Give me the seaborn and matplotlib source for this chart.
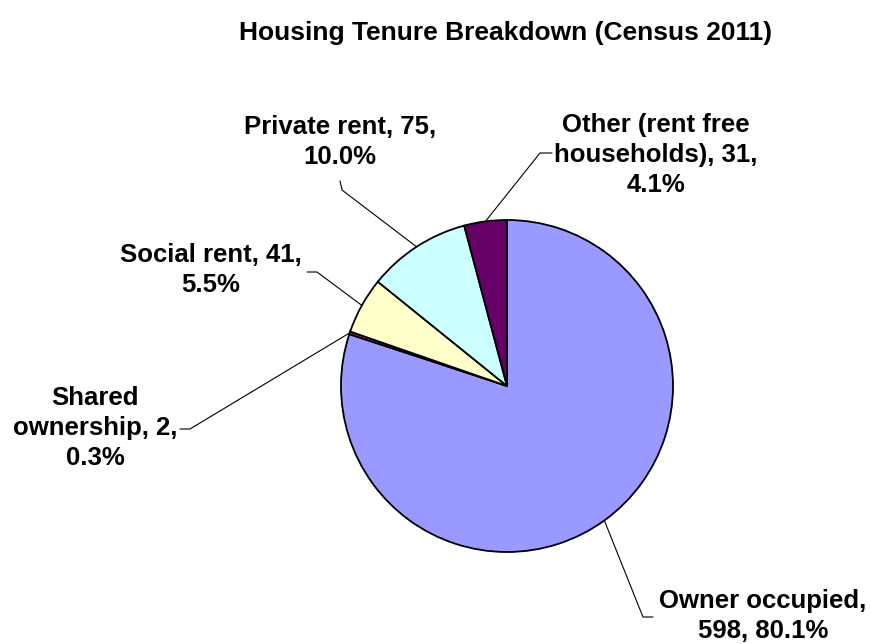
import numpy as np
import matplotlib
matplotlib.use("Agg")
import matplotlib.pyplot as plt
import seaborn as sns

categories = ["Owner occupied", "Shared ownership", "Social rent", "Private rent",
              "Other (rent free households)"]
counts = [598, 2, 41, 75, 31]
label_text = ["Owner occupied,\n598, 80.1%",
              "Shared\nownership, 2,\n0.3%",
              "Social rent, 41,\n5.5%",
              "Private rent, 75,\n10.0%",
              "Other (rent free\nhouseholds), 31,\n4.1%"]
colors = ["#9999FF", "#993366", "#FFFFCC", "#CCFFFF", "#660066"]

sns.set_theme(style="white")
plt.rcParams["font.family"] = ["Liberation Sans", "DejaVu Sans"]
plt.rcParams["text.color"] = "black"

W, H = 871, 644
fig = plt.figure(figsize=(W / 100, H / 100), dpi=100)
ax = fig.add_axes([0, 0, 1, 1])

cx, cy, r = 507, 386, 166
# y axis is inverted, so counterclock=True draws clockwise on screen
wedges, _ = ax.pie(counts, colors=colors, startangle=-90, counterclock=True,
                   center=(cx, cy), radius=r, frame=True,
                   wedgeprops=dict(edgecolor="black", linewidth=1.3))
ax.set_xlim(0, W)
ax.set_ylim(H, 0)
ax.set_aspect("equal")
ax.axis("off")

# label placement: text centre, leader elbow, short tick end
layout = [
    ((763, 616), (643, 617), (653, 617)),
    ((95, 428), (190, 429), (180, 429)),
    ((211, 270), (317, 272), (307, 272)),
    ((340, 142), (342, 190), (340, 181)),
    ((656, 155), (540, 153), (552, 153)),
]

for w, txt, ((tx, ty), (ex, ey), (kx, ky)) in zip(wedges, label_text, layout):
    mid = np.deg2rad((w.theta1 + w.theta2) / 2)
    px = cx + r * np.cos(mid)
    py = cy + r * np.sin(mid)
    ax.plot([px, ex, kx], [py, ey, ky], color="black", linewidth=0.8)
    ax.text(tx, ty, txt, ha="center", va="center", fontsize=18.5,
            fontweight="bold", linespacing=1.3)

ax.text(506, 33, "Housing Tenure Breakdown (Census 2011)", ha="center", va="center",
        fontsize=19, fontweight="bold")

fig.savefig("out.png", dpi=100)
